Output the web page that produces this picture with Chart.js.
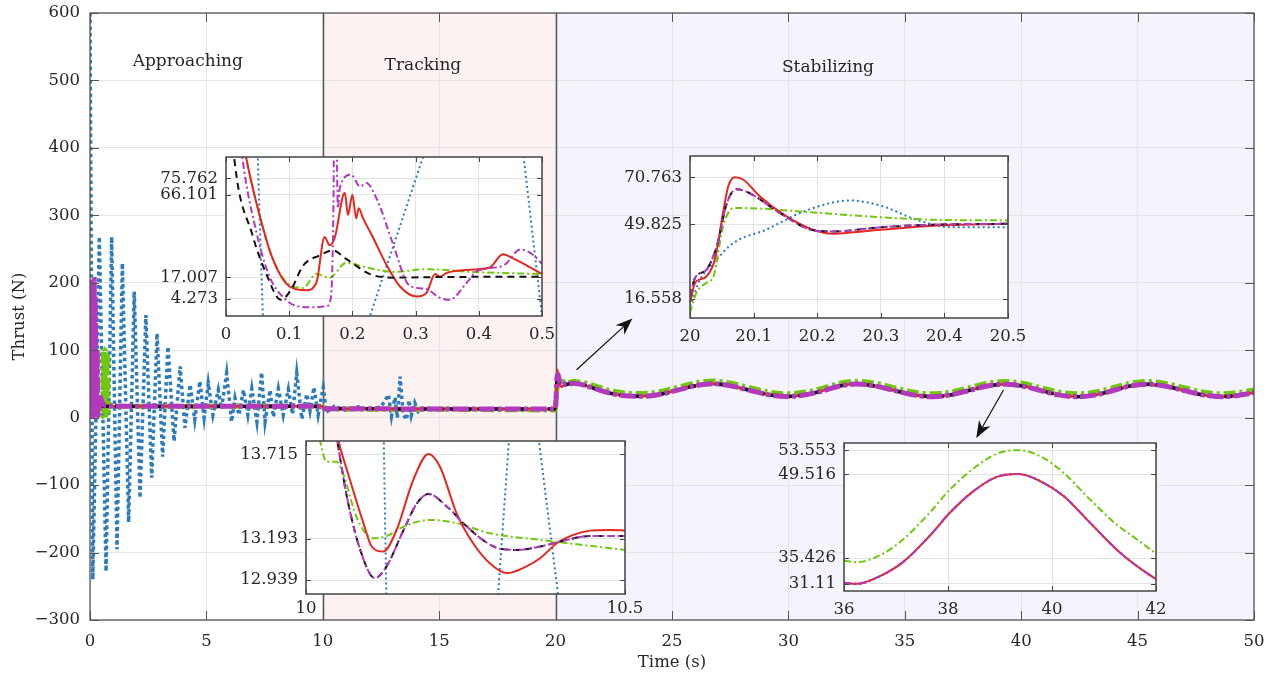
<!DOCTYPE html>
<html lang="en">
<head>
<meta charset="UTF-8">
<title>Thrust during approaching, tracking and stabilizing</title>
<style>
    body { margin: 0; background: #fff; }
    #wrap { position: relative; width: 1270px; height: 684px; }
    #wrap canvas { position: absolute; left: 0; top: 0; }
</style>
</head>
<body>
<div id="wrap">
    <canvas id="main" width="1270" height="684"></canvas>
    <canvas id="inset1"></canvas>
    <canvas id="inset2"></canvas>
    <canvas id="inset3"></canvas>
    <canvas id="inset4"></canvas>
</div>

<script src="https://cdn.jsdelivr.net/npm/chart.js"></script>
<script>
// ---- main plot data: [time (s), thrust (N)] ----
const mainBlue = [[0,600],[0.12,-240],[0.4,268],[0.69,-228],[0.93,268],[1.16,-195],[1.39,229],[1.66,-155],[1.9,187],[2.15,-119],
    [2.4,152],[2.65,-89],[2.88,125],[3.12,-58],[3.35,105],[3.61,-35],[3.87,76],[4.08,-15],[4.3,49],[4.5,-3],[4.72,54],[4.9,0],
    [5.08,51],[5.28,4],[5.51,41],[5.65,13],[5.87,66],[6.08,-6],[6.23,29],[6.4,4],[6.59,41],[6.78,4],[6.95,43],[7.17,-6],[7.37,67],
    [7.52,-6],[7.73,41],[7.88,1],[8.09,43],[8.3,4],[8.52,42],[8.7,5],[8.88,66],[9.1,-2],[9.31,35],[9.45,10],[9.62,45],[9.8,4],
    [10.02,45],[10.15,8],[10.5,17],[11,11],[11.5,16],[12,12],[12.5,16],[12.82,34],[12.95,2],[13.1,30],[13.2,0],[13.32,61],
    [13.45,5],[13.6,-3],[13.7,26],[13.8,3],[13.95,22],[14.1,9],[14.3,14],[15,13],[19.97,13],[20.03,35],[20.1,48],[20.25,58],[20.4,51]];
const magentaHead = [[0,205],[0.02,120],[0.04,200],[0.06,60],[0.08,170],[0.1,2],[0.13,150],[0.16,2],[0.18,205],[0.2,40],
    [0.22,180],[0.25,70],[0.28,5],[0.31,100],[0.34,3],[0.4,14],[0.46,30],[0.5,25],[0.7,17],[9.98,17],[10.05,14],[10.1,13.1],
    [19.97,13],[20.02,25],[20.06,60],[20.1,64],[20.2,50],[20.5,49.5]];
const redHead = [[0,200],[0.02,115],[0.05,55],[0.1,12],[0.13,9],[0.16,41],[0.19,67],[0.21,58],[0.25,24],[0.3,6],[0.35,19],
    [0.44,31],[0.5,19],[0.7,17],[9.98,17],[10.05,14],[10.1,13.1],[19.97,13],[20.03,30],[20.07,71],[20.15,53],[20.25,46],[20.5,49.5]];
const blackHead = [[0,200],[0.013,88],[0.04,42],[0.09,4],[0.15,30],[0.17,33],[0.25,17],[9.98,17],[10.05,14],[10.1,13.1],
    [19.97,13],[20.05,50],[20.1,63],[20.2,48],[20.5,49.5]];
const greenHead = [[0,200],[0.02,115],[0.05,55],[0.1,12],[0.2,24],[0.3,21],[0.5,19],[0.55,2],[0.58,103],[0.62,3],[0.66,100],
    [0.7,4],[0.74,95],[0.78,10],[0.85,20],[1,17],[9.98,17],[10.05,13.7],[10.1,13.2],[14,12.5],[19.97,11.5],[20.05,40],[20.1,57],
    [20.3,54],[20.5,52]];
const mainSine = [[20.76,51],[21.19,48.6],[21.76,42.2],[22.34,36.3],[22.9,32.8],[23.62,31.6],[24.4,34],[25.2,40.5],[25.95,47],
    [26.75,50.3],[27.55,47],[28.35,40.5],[29.15,34],[29.95,31.4],[30.75,34],[31.55,40.5],[32.2,47],[32.96,50],[33.75,46.8],
    [34.55,40.4],[35.35,33.8],[36.17,31.1],[36.95,33.7],[37.75,40.2],[38.5,46.7],[39.3,49.6],[40.1,46.6],[40.85,40.2],[41.6,33.8],
    [42.4,31.1],[43.2,33.8],[43.95,40.3],[44.65,46.8],[45.4,49.6],[46.2,46.6],[47,40.2],[47.8,33.8],[48.6,31.1],[49.4,33.5],[50,37]];
const greenSine = [[20.76,53.5],[21.19,52],[21.76,46.5],[22.34,40.5],[22.9,37],[23.62,35.7],[24.4,38],[25.2,44.5],[25.95,51],
    [26.75,54.3],[27.55,51],[28.35,44.5],[29.15,38],[29.95,35.5],[30.75,38],[31.55,44.5],[32.2,51],[32.96,54],[33.75,51],
    [34.55,44.5],[35.35,38],[36.17,35.3],[36.95,38],[37.75,44.3],[38.5,50.8],[39.3,53.6],[40.1,50.7],[40.85,44.3],[41.6,38],
    [42.4,35.3],[43.2,38],[43.95,44.4],[44.65,50.9],[45.4,53.6],[46.2,50.7],[47,44.3],[47.8,38],[48.6,35.3],[49.4,37.7],[50,41]];

const xTicksMain = [0,5,10,15,20,25,30,35,40,45,50];
const yTicksMain = [-300,-200,-100,0,100,200,300,400,500,600];
const phaseNames = ['Approaching', 'Tracking', 'Stabilizing'];
const phaseSpans = [[0,10],[10,20],[20,50]];
const phaseLabelAt = [[4.2,528],[14.3,522],[31.7,519]];
const arrowsAt = [[[20.9,71],[23.3,147]],[[39.24,41],[38.07,-30]]];

// ---- inset 1: 0 .. 0.5 s ----
const i1Red = [[0.02,115],[0.032,88],[0.053,54.2],[0.074,27.9],[0.1,11.7],[0.127,9.3],[0.143,13.8],[0.156,41],[0.164,36],
    [0.172,40.4],[0.188,67.3],[0.193,54],[0.2,66],[0.206,52],[0.21,58],[0.217,52],[0.233,40.4],[0.254,24.3],[0.275,11.7],
    [0.302,5.6],[0.317,7.6],[0.331,18.9],[0.339,17.3],[0.349,19.6],[0.392,21.6],[0.418,23],[0.438,30.7],[0.455,28.1],[0.476,24],[0.5,19]];
const i1Magenta = [[0.015,130],[0.026,88],[0.048,44],[0.069,17.3],[0.095,3.6],[0.116,-0.4],[0.14,-0.8],[0.16,0],[0.166,5.2],
    [0.17,60],[0.172,150],[0.175,100],[0.177,58],[0.18,70],[0.198,78],[0.212,71],[0.222,73],[0.238,64],[0.265,36],[0.286,14],
    [0.302,10.7],[0.317,10],[0.339,4.7],[0.354,3.6],[0.381,13.8],[0.397,20.6],[0.439,24],[0.466,33.5],[0.487,30],[0.5,25]];
const i1Green = [[0.015,130],[0.032,88],[0.053,54],[0.074,28],[0.1,12.7],[0.122,10.7],[0.143,19],[0.164,16.8],[0.19,25.6],
    [0.222,22.9],[0.265,20.2],[0.317,21.8],[0.39,20.2],[0.5,18.9]];
const i1Black = [[0.005,130],[0.013,88],[0.042,42],[0.063,19.8],[0.087,3.6],[0.103,9.7],[0.122,23.9],[0.148,30],[0.169,33],
    [0.19,28],[0.228,18.9],[0.265,16.8],[0.35,17.2],[0.5,17.3]];
const i1Blue = [[0.045,150],[0.062,-50],[0.14,-120],[0.21,-26],[0.33,109],[0.4,200],[0.46,124],[0.5,-6]];
const i1XTicks = [0,0.1,0.2,0.3,0.4,0.5];
const i1YTicks = [4.273,17.007,66.101,75.762];

// ---- inset 2: 20 .. 20.5 s ----
const i2Red = [[20,15],[20.008,23.8],[20.016,25.3],[20.026,26.7],[20.039,34.1],[20.052,54.9],[20.06,66.7],[20.071,70.8],
    [20.084,69.7],[20.11,62.3],[20.152,53.4],[20.194,47.4],[20.225,45.7],[20.257,46.3],[20.304,47.5],[20.382,49.2],[20.5,50.1]];
const i2Magenta = [[20,17.9],[20.008,26],[20.026,29.7],[20.042,40],[20.058,59.3],[20.073,65.5],[20.094,63.7],[20.141,54.9],
    [20.194,47.2],[20.225,46.7],[20.304,48.6],[20.382,49.7],[20.5,50.1]];
const i2Green = [[20,10.4],[20.01,19.3],[20.026,23.8],[20.037,26.7],[20.052,48.9],[20.068,57.1],[20.084,57.1],[20.173,55.6],
    [20.277,53.4],[20.382,51.9],[20.5,51.6]];
const i2Blue = [[20,13.4],[20.016,25.3],[20.037,32.6],[20.068,41.5],[20.12,47.5],[20.173,54.9],[20.225,59.6],[20.251,60.5],
    [20.304,57.8],[20.356,51.9],[20.408,48.6],[20.5,48.6]];
const i2XTicks = [20,20.1,20.2,20.3,20.4,20.5];
const i2YTicks = [16.558,49.825,70.763];

// ---- inset 3: 10 .. 10.5 s ----
const i3Red = [[10.04,14.0],[10.051,13.797],[10.069,13.556],[10.09,13.29],[10.103,13.146],[10.121,13.115],[10.142,13.248],
    [10.168,13.556],[10.192,13.717],[10.21,13.638],[10.236,13.351],[10.262,13.166],[10.288,13.043],[10.315,12.982],[10.34,13.013],
    [10.367,13.074],[10.393,13.166],[10.419,13.218],[10.445,13.244],[10.476,13.248],[10.5,13.245]];
const i3Magenta = [[10.04,14.0],[10.049,13.797],[10.064,13.454],[10.085,13.125],[10.108,12.951],[10.126,13.022],[10.153,13.248],
    [10.174,13.413],[10.192,13.47],[10.221,13.392],[10.252,13.269],[10.294,13.146],[10.33,13.125],[10.367,13.146],[10.409,13.187],
    [10.445,13.211],[10.5,13.211]];
const i3Green = [[10.015,13.9],[10.022,13.797],[10.032,13.669],[10.048,13.669],[10.058,13.598],[10.079,13.33],[10.105,13.197],
    [10.126,13.21],[10.153,13.269],[10.194,13.31],[10.236,13.29],[10.288,13.228],[10.367,13.187],[10.5,13.125]];
const i3Blue = [[10.1,19],[10.119,14.5],[10.129,12.1],[10.2,11],[10.29,12.24],[10.33,14.46],[10.35,14.27],[10.41,12.38],[10.5,11]];
const i3XTicks = [10,10.5];
const i3YTicks = [12.939,13.193,13.715];

// ---- inset 4: 36 .. 42 s ----
const i4Green = [[36,35.0],[36.24,34.75],[36.69,35.9],[37.14,38.6],[37.65,43.1],[38.04,47.0],[38.49,50.5],[38.94,53.0],
    [39.36,53.6],[39.77,52.6],[40.22,49.8],[40.73,45.3],[41.24,41.1],[41.63,38.6],[42,36.2]];
const i4Magenta = [[36,31.3],[36.24,31.1],[36.69,32.4],[37.14,34.8],[37.65,39.2],[38.04,43.1],[38.49,46.7],[38.94,49.1],
    [39.36,49.6],[39.77,48.4],[40.22,45.9],[40.73,41.4],[41.24,36.9],[41.63,34.1],[42,31.9]];
const i4XTicks = [36,38,40,42];
const i4YTicks = [31.11,35.426,49.516,53.553];

// ---- styles ----
const FONT = { family: "'DejaVu Serif', serif", size: 16.5 };
const TXT = '#262626';
const C = { blue: '#2b7bbd', red: '#e6261f', magenta: '#b238bd', green: '#6fc80a', black: '#111111' };

function line(data, color, width, dash, extra) {
    return Object.assign({
        data: data, borderColor: color, borderWidth: width, borderDash: dash,
        pointRadius: 0, fill: false, cubicInterpolationMode: 'monotone'
    }, extra || {});
}

// keep the plot box exactly where the layout padding puts it
function noPadX(s, h) { s.height = h; s.paddingLeft = 0; s.paddingRight = 0; }
function noPadY(s, w) { s.width = w; s.paddingTop = 0; s.paddingBottom = 0; }

function arrow(ctx, x0, y0, x1, y1) {
    const a = Math.atan2(y1 - y0, x1 - x0), L = 17, W = 6.5;
    const cs = Math.cos(a), sn = Math.sin(a);
    ctx.beginPath();
    ctx.moveTo(x0, y0);
    ctx.lineTo(x1 - cs * L * 0.7, y1 - sn * L * 0.7);
    ctx.stroke();
    ctx.beginPath();
    ctx.moveTo(x1, y1);
    ctx.lineTo(x1 - L * cs + W * sn, y1 - L * sn - W * cs);
    ctx.lineTo(x1 - L * 0.7 * cs, y1 - L * 0.7 * sn);
    ctx.lineTo(x1 - L * cs - W * sn, y1 - L * sn + W * cs);
    ctx.closePath();
    ctx.fill();
}

// background, dividers, inward ticks, box, labels
const frame = {
    id: 'frame',
    beforeDraw(chart, args, o) {
        const { ctx, chartArea: a, scales: { x } } = chart;
        ctx.save();
        ctx.fillStyle = '#fff';
        if (o.main) {
            ctx.fillRect(0, 0, chart.width, chart.height);
            o.bandColors.forEach((col, i) => {
                const x0 = x.getPixelForValue(phaseSpans[i][0]), x1 = x.getPixelForValue(phaseSpans[i][1]);
                ctx.fillStyle = col;
                ctx.fillRect(x0, a.top, x1 - x0, a.bottom - a.top);
            });
        } else {
            ctx.fillRect(a.left, a.top, a.right - a.left, a.bottom - a.top);
        }
        ctx.restore();
    },
    beforeDatasetsDraw(chart, args, o) {
        if (!o.main) return;
        const { ctx, chartArea: a, scales: { x } } = chart;
        ctx.save();
        ctx.strokeStyle = '#5a5a5a';
        ctx.lineWidth = 1.5;
        [phaseSpans[1][0], phaseSpans[2][0]].forEach(v => {
            const px = Math.round(x.getPixelForValue(v)) + 0.5;
            ctx.beginPath(); ctx.moveTo(px, a.top); ctx.lineTo(px, a.bottom); ctx.stroke();
        });
        ctx.restore();
    },
    afterDatasetsDraw(chart, args, o) {
        const { ctx, chartArea: a, scales: { x, y } } = chart;
        const len = o.tick;
        ctx.save();
        ctx.strokeStyle = o.boxColor;
        ctx.lineWidth = 1;
        ctx.beginPath();
        x.ticks.forEach(t => {
            const px = Math.round(x.getPixelForValue(t.value)) + 0.5;
            ctx.moveTo(px, a.bottom); ctx.lineTo(px, a.bottom - len);
            ctx.moveTo(px, a.top); ctx.lineTo(px, a.top + len);
        });
        y.ticks.forEach(t => {
            const py = Math.round(y.getPixelForValue(t.value)) + 0.5;
            ctx.moveTo(a.left, py); ctx.lineTo(a.left + len, py);
            ctx.moveTo(a.right, py); ctx.lineTo(a.right - len, py);
        });
        ctx.stroke();
        ctx.lineWidth = o.boxWidth;
        ctx.strokeRect(a.left, a.top, a.right - a.left, a.bottom - a.top);
        ctx.restore();
    },
    afterDraw(chart, args, o) {
        if (!o.main) return;
        const { ctx, scales: { x, y } } = chart;
        ctx.save();
        ctx.fillStyle = TXT;
        ctx.font = "17px 'DejaVu Serif', serif";
        ctx.textAlign = 'center';
        ctx.textBaseline = 'middle';
        phaseNames.forEach((name, i) => {
            ctx.fillText(name, x.getPixelForValue(phaseLabelAt[i][0]), y.getPixelForValue(phaseLabelAt[i][1]));
        });
        ctx.strokeStyle = '#111';
        ctx.fillStyle = '#111';
        ctx.lineWidth = 1.2;
        arrowsAt.forEach(([p, q]) => {
            arrow(ctx, x.getPixelForValue(p[0]), y.getPixelForValue(p[1]),
                       x.getPixelForValue(q[0]), y.getPixelForValue(q[1]));
        });
        ctx.restore();
    }
};

// ---- main chart ----
new Chart(document.getElementById('main'), {
    type: 'line',
    data: {
        datasets: [
            line(magentaHead.concat(mainSine), C.magenta, 5, [16, 3, 4, 3]),
            line(blackHead.concat(mainSine), C.black, 3.5, [8, 6]),
            line(redHead.concat(mainSine), C.red, 2.5, []),
            line(greenHead.concat(greenSine), C.green, 5, [12, 4, 3, 4]),
            line(mainBlue.concat(mainSine), C.blue, 3.5, [3.5, 3.2], { cubicInterpolationMode: 'default', tension: 0 })
        ]
    },
    options: {
        responsive: false,
        animation: false,
        events: [],
        layout: { padding: { top: 13, right: 16, left: 0, bottom: 0 } },
        plugins: {
            legend: { display: false },
            tooltip: { enabled: false },
            frame: { main: true, bandColors: ['#ffffff', '#fdf2f2', '#f5f3fc'], tick: 9, boxColor: '#555', boxWidth: 1.3 }
        },
        scales: {
            x: {
                type: 'linear', min: 0, max: 50,
                afterBuildTicks: s => { s.ticks = xTicksMain.map(v => ({ value: v })); },
                afterFit: s => noPadX(s, 64),
                ticks: { font: FONT, color: TXT, padding: 12, maxRotation: 0, autoSkip: false },
                grid: { color: '#e4e4e4', drawTicks: false },
                border: { display: false },
                title: { display: true, text: 'Time (s)', font: FONT, color: TXT, padding: { top: 0, bottom: 11 } }
            },
            y: {
                type: 'linear', min: -300, max: 600,
                afterBuildTicks: s => { s.ticks = yTicksMain.map(v => ({ value: v })); },
                afterFit: s => noPadY(s, 90),
                ticks: { font: FONT, color: TXT, padding: 10, autoSkip: false,
                         callback: v => v < 0 ? '\u2212' + Math.abs(v) : String(v) },
                grid: { color: '#e4e4e4', drawTicks: false },
                border: { display: false },
                title: { display: true, text: 'Thrust (N)', font: FONT, color: TXT, padding: { top: 10, bottom: 0 } }
            }
        }
    },
    plugins: [frame]
});

// ---- insets ----
function inset(id, box, xr, xTicks, yr, yTicks, datasets, xPad) {
    const c = document.getElementById(id);
    const padL = 80, padT = 14, padR = 30, padB = 34;
    c.width = padL + box.w + padR;
    c.height = padT + box.h + padB;
    c.style.left = (box.x - padL) + 'px';
    c.style.top = (box.y - padT) + 'px';
    new Chart(c, {
        type: 'line',
        data: { datasets: datasets },
        options: {
            responsive: false,
            animation: false,
            events: [],
            layout: { padding: { top: padT, right: padR, left: 0, bottom: 0 } },
            plugins: {
                legend: { display: false },
                tooltip: { enabled: false },
                frame: { main: false, tick: 5, boxColor: '#444', boxWidth: 1.5 }
            },
            scales: {
                x: {
                    type: 'linear', min: xr[0], max: xr[1],
                    afterBuildTicks: s => { s.ticks = xTicks.map(v => ({ value: v })); },
                    afterFit: s => noPadX(s, padB),
                    ticks: { font: FONT, color: TXT, padding: xPad, maxRotation: 0, autoSkip: false, callback: v => String(v) },
                    grid: { color: '#e2e2e2', drawTicks: false },
                    border: { display: false }
                },
                y: {
                    type: 'linear', min: yr[0], max: yr[1],
                    afterBuildTicks: s => { s.ticks = yTicks.map(v => ({ value: v })); },
                    afterFit: s => noPadY(s, padL),
                    ticks: { font: FONT, color: TXT, padding: 8, autoSkip: false, callback: v => String(v) },
                    grid: { color: '#e2e2e2', drawTicks: false },
                    border: { display: false }
                }
            }
        },
        plugins: [frame]
    });
}

const dotted = { cubicInterpolationMode: 'default', tension: 0 };

inset('inset1', { x: 226, y: 157, w: 316, h: 159 }, [0, 0.5], i1XTicks, [-6, 88.5], i1YTicks, [
    line(i1Magenta, C.magenta, 2, [7, 3, 2, 3]),
    line(i1Black, C.black, 2, [7, 5]),
    line(i1Red, C.red, 2, []),
    line(i1Green, C.green, 2, [7, 3, 2, 3]),
    line(i1Blue, C.blue, 2, [2, 3], dotted)
], 9);

inset('inset2', { x: 690, y: 156, w: 318, h: 162 }, [20, 20.5], i2XTicks, [8.1, 80.3], i2YTicks, [
    line(i2Magenta, C.magenta, 2, [7, 3, 2, 3]),
    line(i2Magenta, C.black, 2, [7, 5]),
    line(i2Red, C.red, 2, []),
    line(i2Green, C.green, 2, [7, 3, 2, 3]),
    line(i2Blue, C.blue, 2, [2, 3])
], 9);

inset('inset3', { x: 306, y: 441, w: 319, h: 153 }, [10, 10.5], i3XTicks, [12.853, 13.797], i3YTicks, [
    line(i3Magenta, C.magenta, 2, [7, 3, 2, 3]),
    line(i3Magenta, C.black, 2, [7, 5]),
    line(i3Red, C.red, 2, []),
    line(i3Green, C.green, 2, [7, 3, 2, 3]),
    line(i3Blue, C.blue, 2, [2, 3], dotted)
], 5);

inset('inset4', { x: 844, y: 443, w: 312, h: 148 }, [36, 42], i4XTicks, [29.9, 54.8], i4YTicks, [
    line(i4Magenta, C.magenta, 2, [7, 3, 2, 3]),
    line(i4Magenta, C.red, 2, []),
    line(i4Magenta, C.blue, 2, [2, 3]),
    line(i4Green, C.green, 2, [7, 3, 2, 3])
], 9);
</script>
</body>
</html>
